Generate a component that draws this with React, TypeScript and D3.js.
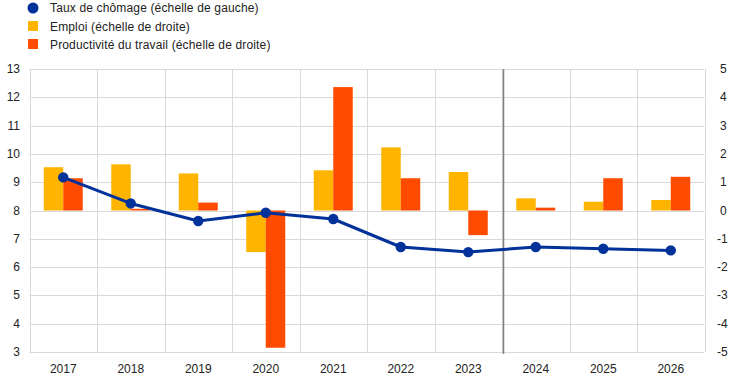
import React from "react";
import * as d3 from "d3";

const years = ["2017","2018","2019","2020","2021","2022","2023","2024","2025","2026"];
const unemployment = [9.17, 8.25, 7.63, 7.92, 7.7, 6.71, 6.53, 6.71, 6.65, 6.59];
const employment = [1.53, 1.63, 1.31, -1.47, 1.42, 2.23, 1.36, 0.43, 0.31, 0.37];
const productivity = [1.14, 0.06, 0.28, -4.85, 4.36, 1.14, -0.87, 0.1, 1.14, 1.19];
const leftTicks = [3,4,5,6,7,8,9,10,11,12,13];
const rightTicks = [-5,-4,-3,-2,-1,0,1,2,3,4,5];
const legendLabels = [
  "Taux de chômage (échelle de gauche)",
  "Emploi (échelle de droite)",
  "Productivité du travail (échelle de droite)",
];

const BLUE = "#003299";
const YELLOW = "#FFB400";
const ORANGE = "#FF4B00";
const GRID = "#d9d9d9";
const TEXT = "#222";
const FONT = "'Liberation Sans', Arial, sans-serif";

export default function App() {
  const W = 744, H = 382;
  const x0 = 29.5, x1 = 704.5, yTop = 69, yBot = 352;
  const x = d3.scaleBand().domain(years).range([x0, x1]).padding(0);
  const yL = d3.scaleLinear().domain([3, 13]).range([yBot, yTop]);
  const yR = d3.scaleLinear().domain([-5, 5]).range([yBot, yTop]);
  const bw = x.bandwidth();
  const barW = 19.5;
  const line = d3.line<number>()
    .x((_, i) => x(years[i])! + bw / 2)
    .y((d) => yL(d));
  const boundary = x("2024")! + 1.5;

  return (
    <svg width={W} height={H} style={{ position: "absolute", left: 0, top: 0, fontFamily: FONT }}>
      {/* legend */}
      <g fontSize={12} fill={TEXT} letterSpacing={0.15}>
        <circle cx={33} cy={8} r={5.5} fill={BLUE} />
        <rect x={28} y={21} width={10} height={10} fill={YELLOW} />
        <rect x={28} y={39} width={10} height={10} fill={ORANGE} />
        {legendLabels.map((t, i) => (
          <text key={t} x={50} y={12 + i * 18.5}>{t}</text>
        ))}
      </g>
      {/* horizontal grid */}
      {leftTicks.map((t) => (
        <line key={"h" + t} x1={x0} x2={x1} y1={Math.round(yL(t)) + 0.5} y2={Math.round(yL(t)) + 0.5} stroke={GRID} strokeWidth={1} />
      ))}
      {/* vertical grid */}
      {years.map((yv) => (
        <line key={"v" + yv} x1={Math.round(x(yv)!) + 0.5} x2={Math.round(x(yv)!) + 0.5} y1={yTop} y2={yBot} stroke={GRID} strokeWidth={1} />
      ))}
      <line x1={Math.round(x1) + 0.5} x2={Math.round(x1) + 0.5} y1={yTop} y2={yBot} stroke={GRID} />
      {/* bars */}
      {years.map((yv, i) => {
        const cx = x(yv)! + bw / 2;
        const e = employment[i], p = productivity[i];
        return (
          <g key={"b" + yv}>
            <rect x={cx - barW} y={yR(Math.max(0, e))} width={barW} height={Math.abs(yR(e) - yR(0))} fill={YELLOW} />
            <rect x={cx} y={yR(Math.max(0, p))} width={barW} height={Math.abs(yR(p) - yR(0))} fill={ORANGE} />
          </g>
        );
      })}
      {/* projection separator */}
      <line x1={boundary} x2={boundary} y1={yTop} y2={yBot + 2} stroke="#808080" strokeWidth={1.5} />
      {/* line */}
      <path d={line(unemployment)!} fill="none" stroke={BLUE} strokeWidth={3} strokeLinejoin="round" />
      {unemployment.map((v, i) => (
        <circle key={"c" + i} cx={x(years[i])! + bw / 2} cy={yL(v)} r={5.2} fill={BLUE} />
      ))}
      {/* left axis */}
      <g fontSize={12} fill={TEXT} textAnchor="end">
        {leftTicks.map((t) => (
          <text key={"l" + t} x={20} y={yL(t) + 4}>{t}</text>
        ))}
      </g>
      {/* right axis */}
      <g fontSize={12} fill={TEXT} textAnchor="start">
        {rightTicks.map((t) => (
          <text key={"r" + t} x={t < 0 ? 717 : 720} y={yR(t) + 4}>{t}</text>
        ))}
      </g>
      {/* x labels */}
      <g fontSize={12} fill={TEXT} textAnchor="middle">
        {years.map((yv) => (
          <text key={"x" + yv} x={x(yv)! + bw / 2} y={373}>{yv}</text>
        ))}
      </g>
    </svg>
  );
}
